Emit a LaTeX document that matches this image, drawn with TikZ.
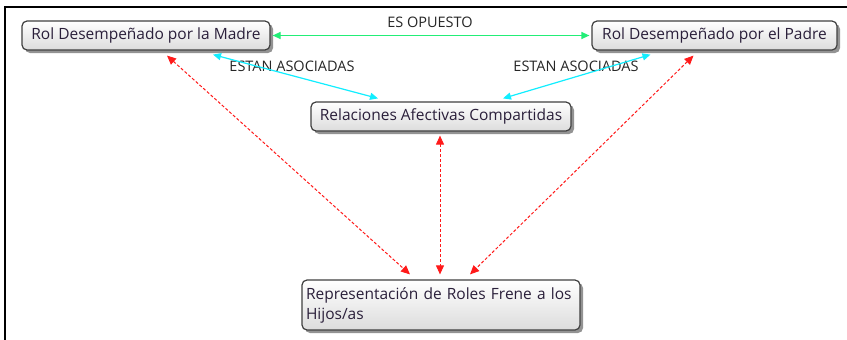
\documentclass[tikz,border=0pt]{standalone}
\usepackage{fontspec}
\setmainfont{Open Sans}
\usetikzlibrary{arrows.meta,shadows}
\definecolor{boxborder}{HTML}{404040}
\definecolor{boxbot}{HTML}{DCDCDC}
\definecolor{txtc}{HTML}{2A1F3A}
\definecolor{greenl}{HTML}{22EE77}
\definecolor{cyanl}{HTML}{11EEFF}
\definecolor{redl}{HTML}{FF1A1A}
\tikzset{
  cbox/.style={draw=boxborder, line width=1.2pt, rounded corners=5pt,
    top color=white, bottom color=boxbot, text=txtc,
    drop shadow={shadow xshift=3pt, shadow yshift=-3pt, fill=black!60, opacity=0.7},
    font=\fontsize{15.5}{20}\selectfont, inner xsep=4pt, inner ysep=0pt},
  lbl/.style={font=\fontsize{14.5}{17}\selectfont, text=black!85, inner sep=0pt},
  gline/.style={draw=greenl, line width=1.2pt, {Triangle[length=8pt,width=7pt]}-{Triangle[length=8pt,width=7pt]}},
  cline/.style={draw=cyanl, line width=1.2pt, {Triangle[length=8pt,width=7pt]}-{Triangle[length=8pt,width=7pt]}},
  rline/.style={draw=redl, line width=1pt, dash pattern=on 3pt off 2pt, {Triangle[length=9pt,width=8pt]}-{Triangle[length=9pt,width=8pt]}},
}
\begin{document}
\begin{tikzpicture}[x=1pt,y=-1pt]
\useasboundingbox (0,0) rectangle (847,340);
\fill[white] (0,0) rectangle (847,340);
% frame
\draw[line width=2pt] (5,340) -- (5,6.5) -- (847,6.5);
% clipped fragment of text above the frame
\begin{scope}
\clip (300,0) rectangle (560,5.5);
\node[lbl, font=\fontsize{15.5}{17}\selectfont, anchor=base] (cut) at (430,-3) {Hijos/as};
\end{scope}
% nodes
\node[cbox, minimum width=248pt, minimum height=29pt] (madre) at (146,35.5) {Rol Desempeñado por la Madre};
\node[cbox, minimum width=245pt, minimum height=29pt] (padre) at (714.5,35.5) {Rol Desempeñado por el Padre};
\node[cbox, minimum width=260pt, minimum height=29pt] (rel) at (441,116.5) {Relaciones Afectivas Compartidas};
\node[cbox, minimum width=278pt, minimum height=50pt, align=left, text width=270pt] (rep) at (441,305) {Representación de Roles Frene a los\\Hijos/as};
% labels
\node[lbl] (opuesto) at (430,22) {ES OPUESTO};
\node[lbl] (asocL) at (292,66.5) {ESTAN ASOCIADAS};
\node[lbl] (asocR) at (576,66.5) {ESTAN ASOCIADAS};
% connectors
\draw[gline] ([xshift=2pt]madre.east) -- ([xshift=-2pt]padre.west);
\draw[cline] ([xshift=67pt,yshift=-4pt]madre.south) -- ([xshift=-63pt,yshift=3pt]rel.north);
\draw[cline] ([xshift=-64pt,yshift=-4pt]padre.south) -- ([xshift=62pt,yshift=3pt]rel.north);
\draw[rline] ([xshift=21pt,yshift=-5pt]madre.south) -- ([xshift=-31pt,yshift=5pt]rep.north);
\draw[rline] ([xshift=-1pt,yshift=-4pt]rel.south) -- ([xshift=-1pt,yshift=5pt]rep.north);
\draw[rline] ([xshift=-21pt,yshift=-5pt]padre.south) -- ([xshift=29pt,yshift=5pt]rep.north);
\end{tikzpicture}
\end{document}
